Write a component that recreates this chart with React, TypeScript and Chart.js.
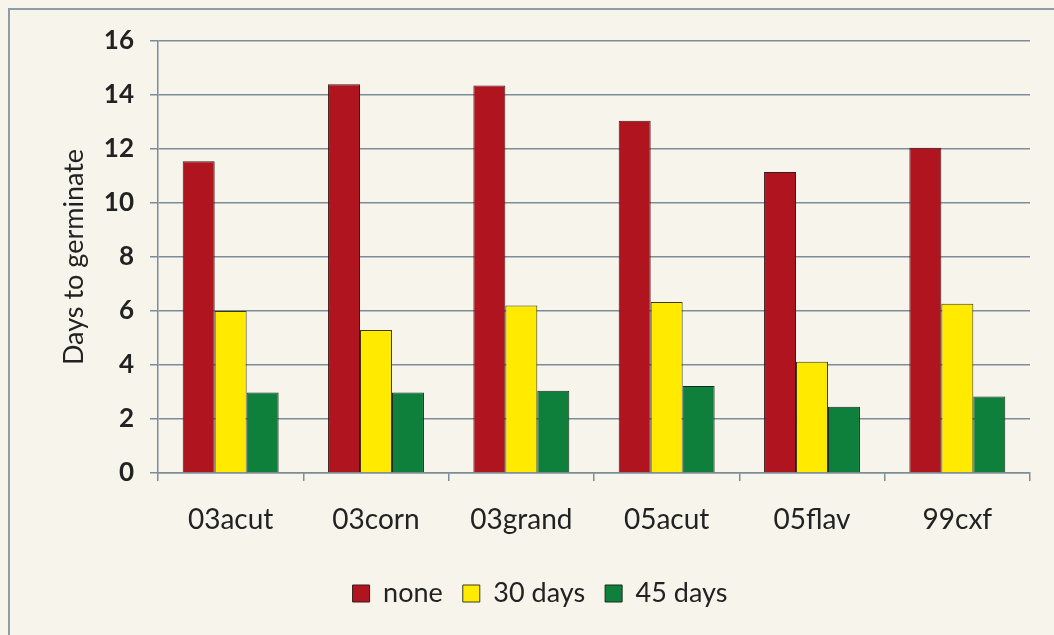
import React, { useEffect, useRef } from "react";
import { Chart, registerables } from "chart.js";

Chart.register(...registerables);

const categories = ["03acut", "03corn", "03grand", "05acut", "05flav", "99cxf"];
const noneValues = [11.55, 14.4, 14.35, 13.05, 11.15, 12.05];
const days30Values = [6.0, 5.3, 6.2, 6.33, 4.12, 6.27];
const days45Values = [2.98, 2.98, 3.05, 3.22, 2.45, 2.83];
const yTicks = [0, 2, 4, 6, 8, 10, 12, 14, 16];

const FONT = "Lato, 'Open Sans', sans-serif";
const GRID = "#7d8d98";

export default function App() {
  const ref = useRef<HTMLCanvasElement | null>(null);

  useEffect(() => {
    if (!ref.current) return;
    const chart = new Chart(ref.current, {
      type: "bar",
      data: {
        labels: categories,
        datasets: [
          { label: "none", data: noneValues, backgroundColor: "#B0141F", borderColor: "#3a1a1a", borderWidth: 1 },
          { label: "30 days", data: days30Values, backgroundColor: "#FFEA00", borderColor: "#3a3a1a", borderWidth: 1 },
          { label: "45 days", data: days45Values, backgroundColor: "#0F7F3C", borderColor: "#1a2a1a", borderWidth: 1 },
        ],
      },
      options: {
        animation: false,
        responsive: false,
        maintainAspectRatio: false,
        layout: { padding: { left: 50, top: 41, right: 24, bottom: 18 } },
        datasets: { bar: { categoryPercentage: 0.66, barPercentage: 1 } },
        plugins: {
          tooltip: { enabled: false },
          legend: {
            position: "bottom",
            labels: {
              color: "#222",
              font: { family: FONT, size: 27 },
              boxWidth: 17,
              boxHeight: 17,
              padding: 20,
            },
          },
        },
        scales: {
          x: {
            grid: {
              display: true,
              drawOnChartArea: false,
              tickLength: 8,
              color: GRID,
              lineWidth: 1.5,
              offset: true,
            },
            border: { color: GRID, width: 1.5 },
            ticks: { color: "#222", font: { family: FONT, size: 28 }, padding: 22 },
            afterFit: (s: any) => { s.height = 87; },
          },
          y: {
            min: 0,
            max: 16,
            afterBuildTicks: (s: any) => { s.ticks = yTicks.map((v) => ({ value: v })); },
            grid: { color: GRID, lineWidth: 1.5, tickLength: 8 },
            border: { color: GRID, width: 1.5 },
            ticks: { color: "#222", font: { family: FONT, size: 26, weight: "bold" }, padding: 16 },
            title: {
              display: true,
              text: "Days to germinate",
              color: "#222",
              font: { family: FONT, size: 27 },
              padding: { top: 8, bottom: 0 },
            },
            afterFit: (s: any) => { s.width = 108; },
          },
        },
      },
    });
    return () => chart.destroy();
  }, []);

  return (
    <div style={{ position: "fixed", left: 0, top: 0, width: 1054, height: 635, overflow: "hidden", background: "#f7f4ec" }}>
      <div style={{ position: "absolute", left: 8, top: 8, width: 1100, height: 700, border: "2px solid #8d9ca6" }} />
      <canvas ref={ref} width={1054} height={635} style={{ position: "absolute", left: 0, top: 0 }} />
    </div>
  );
}
